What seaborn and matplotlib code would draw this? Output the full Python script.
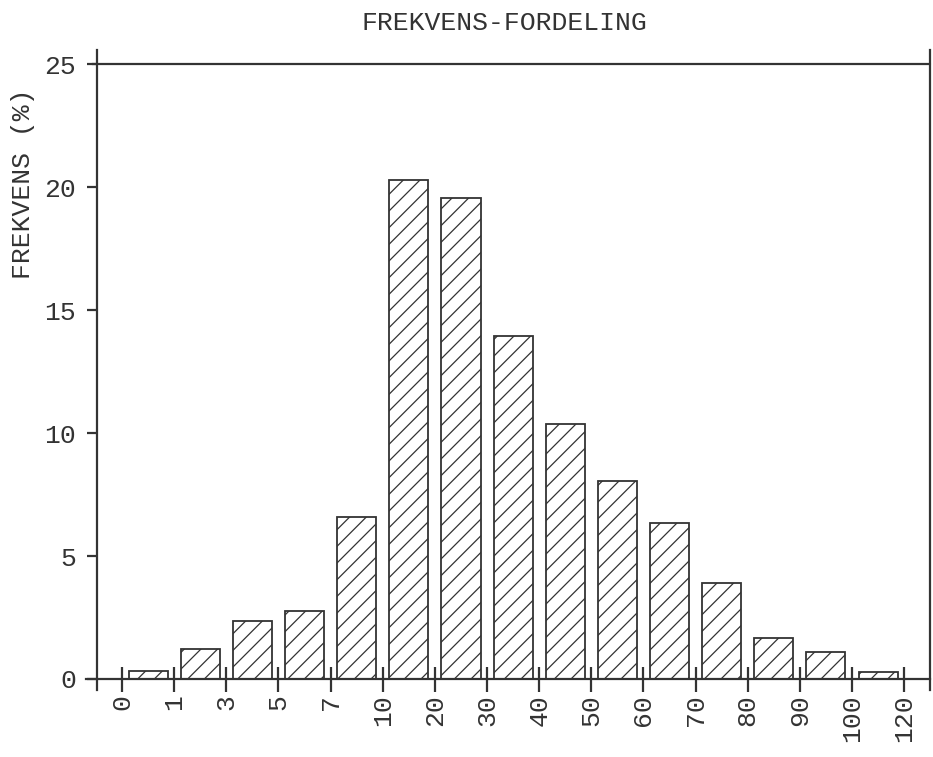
import seaborn as sns
import matplotlib.pyplot as plt
import pandas as pd
import numpy as np

# bin edges shown under the x axis and the share (%) in each bin
edges = ["0", "1", "3", "5", "7", "10", "20", "30", "40", "50",
         "60", "70", "80", "90", "100", "120"]
freq = [0.33, 1.2, 2.35, 2.75, 6.6, 20.3, 19.55, 13.95, 10.35, 8.05,
        6.35, 3.9, 1.65, 1.1, 0.3]

bins = [f"{a}-{b}" for a, b in zip(edges[:-1], edges[1:])]
df = pd.DataFrame({"bin": bins, "freq": freq})

sns.set_style("white")
plt.rcParams["font.family"] = ["Liberation Mono", "DejaVu Sans"]
plt.rcParams["hatch.linewidth"] = 0.9
ink = "#333333"

fig = plt.figure(figsize=(9.33, 7.57), dpi=100)
ax = fig.add_axes([0.104, 0.0885, 0.893, 0.846])

sns.barplot(data=df, x="bin", y="freq", width=0.75, color="white",
            edgecolor=ink, linewidth=1.3, hatch="//", ax=ax)

ax.set_xlim(-0.98, 15.0)
ax.set_ylim(-0.45, 25.6)

# x axis sits at zero, frame line at 25
ax.spines["bottom"].set_position(("data", 0))
ax.spines["bottom"].set_bounds(-1.2, 15.0)
ax.spines["top"].set_visible(False)
for s in ["left", "right", "bottom"]:
    ax.spines[s].set_color(ink)
    ax.spines[s].set_linewidth(1.6)
ax.axhline(25, color=ink, lw=1.6, xmin=-0.006, xmax=1.0, clip_on=False)

ax.set_xticks(np.arange(len(edges)) - 0.5)
ax.set_xticklabels(edges, rotation=90, va="top", ha="center")
ax.set_yticks([0, 5, 10, 15, 20, 25])
ax.set_yticklabels(["0", "5", "10", "15", "20", "25"])

ax.tick_params(axis="x", direction="inout", length=18, width=1.6,
               color=ink, labelsize=19, labelcolor=ink, pad=2, bottom=True)
ax.tick_params(axis="y", direction="out", length=7, width=1.6,
               color=ink, labelsize=19, labelcolor=ink, pad=8, left=True)

ax.set_xlabel("")
ax.set_ylabel("FREKVENS (%)", fontsize=19, color=ink)
ax.yaxis.set_label_coords(-0.074, 0.79)
fig.text(0.541, 0.97, "FREKVENS-FORDELING", ha="center", va="center",
         fontsize=19, color=ink)

fig.savefig("out.png", dpi=100)
